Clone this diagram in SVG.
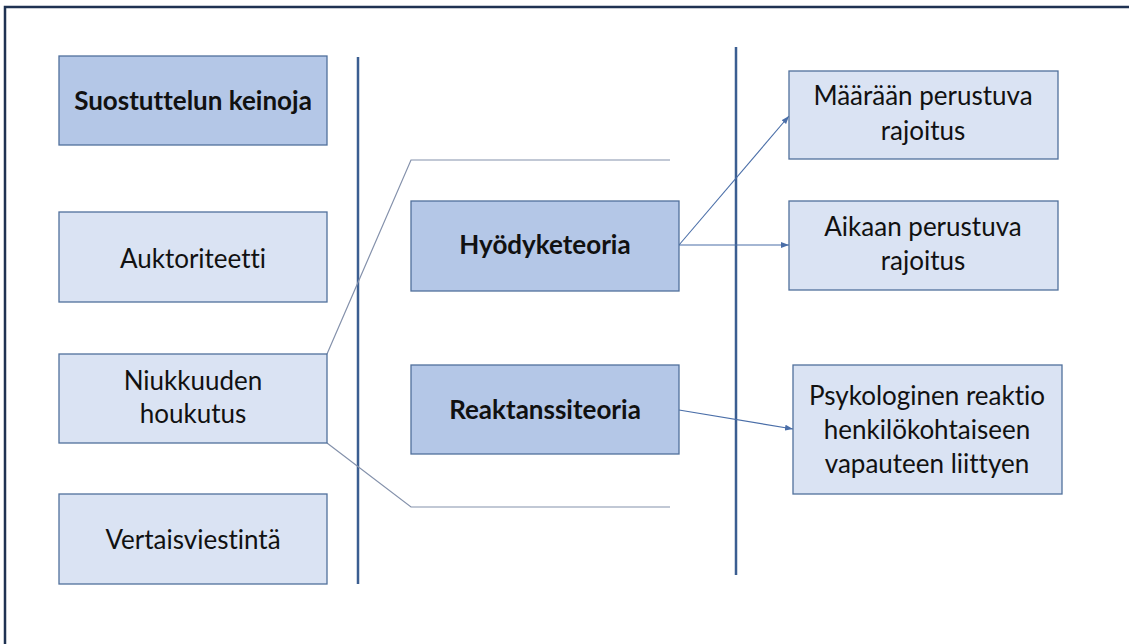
<svg xmlns="http://www.w3.org/2000/svg" width="1129" height="644" viewBox="0 0 1129 644">
<style>
.frame{fill:none;stroke:#1f3252;stroke-width:2.5}
.dark{fill:#b4c7e7;stroke:#50709c;stroke-width:1.3}
.light{fill:#dae3f3;stroke:#50709c;stroke-width:1.3}
.t{font-family:Lato,"Open Sans",sans-serif;font-size:26px;fill:#111;text-anchor:middle;font-variant-ligatures:none}
.b{font-weight:bold}
.div{stroke:#3b5e91;stroke-width:2.5;fill:none}
.br{stroke:#8491ab;stroke-width:1.2;fill:none}
.ar{stroke:#4a6ea8;stroke-width:1.1;fill:none;marker-end:url(#ah)}
</style>
<defs>
<marker id="ah" markerWidth="8" markerHeight="6" refX="8" refY="3" orient="auto" markerUnits="userSpaceOnUse">
<path d="M0,0 L8,3 L0,6 Z" fill="#4a6ea8"/>
</marker>
</defs>
<rect x="0" y="0" width="1129" height="644" fill="#fff"/>
<rect class="frame" x="5" y="7" width="1140" height="660"/>
<g id="dividers">
<line class="div" x1="358" y1="57" x2="358" y2="584"/>
<line class="div" x1="736" y1="47" x2="736" y2="575"/>
</g>
<g id="connectors">
<polyline class="br" points="327,354 411,160 670,160"/>
<polyline class="br" points="327,443 411,507 670,507"/>
<line class="ar" x1="679" y1="245" x2="789" y2="116"/>
<line class="ar" x1="679" y1="245" x2="789" y2="245"/>
<line class="ar" x1="679" y1="410" x2="793" y2="429"/>
</g>
<g id="suostuttelun">
<rect class="dark" x="59" y="56" width="268" height="89"/>
<text class="t b" x="193" y="110">Suostuttelun keinoja</text>
</g>
<g id="auktoriteetti">
<rect class="light" x="59" y="212" width="268" height="90"/>
<text class="t" x="193" y="268">Auktoriteetti</text>
</g>
<g id="niukkuuden">
<rect class="light" x="59" y="354" width="268" height="89"/>
<text class="t" x="193" y="390">Niukkuuden</text>
<text class="t" x="193" y="423">houkutus</text>
</g>
<g id="vertaisviestinta">
<rect class="light" x="59" y="494" width="268" height="90"/>
<text class="t" x="193" y="549">Vertaisviestintä</text>
</g>
<g id="hyodyketeoria">
<rect class="dark" x="411" y="201" width="268" height="90"/>
<text class="t b" x="545" y="254">Hyödyketeoria</text>
</g>
<g id="reaktanssiteoria">
<rect class="dark" x="411" y="365" width="268" height="89"/>
<text class="t b" x="545" y="419">Reaktanssiteoria</text>
</g>
<g id="maaraan">
<rect class="light" x="789" y="71" width="269" height="88"/>
<text class="t" x="923" y="105">Määrään perustuva</text>
<text class="t" x="923" y="140">rajoitus</text>
</g>
<g id="aikaan">
<rect class="light" x="789" y="201" width="269" height="89"/>
<text class="t" x="923" y="236">Aikaan perustuva</text>
<text class="t" x="923" y="270">rajoitus</text>
</g>
<g id="psykologinen">
<rect class="light" x="793" y="365" width="269" height="129"/>
<text class="t" x="927" y="405">Psykologinen reaktio</text>
<text class="t" x="927" y="439">henkilökohtaiseen</text>
<text class="t" x="927" y="473">vapauteen liittyen</text>
</g>
</svg>
